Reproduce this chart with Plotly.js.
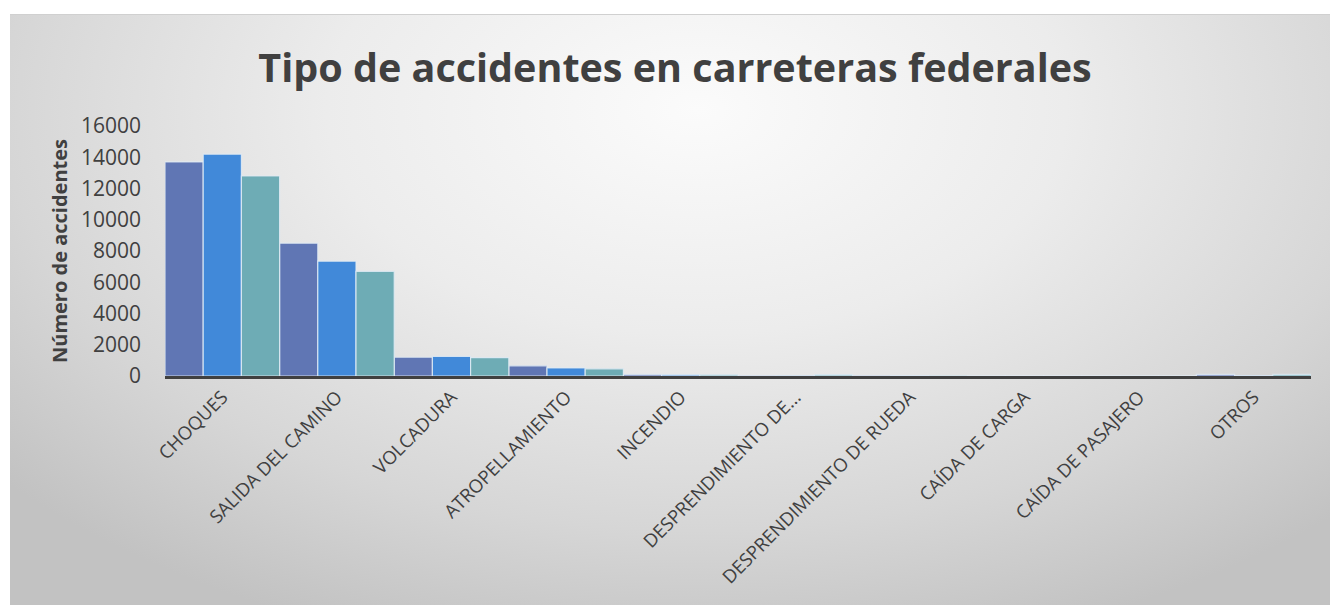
<!DOCTYPE html>
<html>
<head>
<meta charset="utf-8">
<script src="https://cdn.plot.ly/plotly-3.0.1.min.js"></script>
<style>
  html, body { margin: 0; padding: 0; background: #ffffff; width: 1330px; height: 605px; overflow: hidden; }
  #bg { position: absolute; left: 10px; top: 14px; width: 1320px; height: 591px;
        background: radial-gradient(ellipse 70% 95% at 52% 16%, #fbfbfb 0%, #ececec 40%, #d6d6d6 75%, #c2c2c2 100%);
        border-top: 1px solid #d0d0d0; }
  #chart { position: absolute; left: 0; top: 0; width: 1330px; height: 605px; }
</style>
</head>
<body>
<div id="bg"></div>
<div id="chart"></div>
<script>
const categories = ["CHOQUES", "SALIDA DEL CAMINO", "VOLCADURA", "ATROPELLAMIENTO", "INCENDIO",
  "DESPRENDIMIENTO DE...", "DESPRENDIMIENTO DE RUEDA", "CAÍDA DE CARGA", "CAÍDA DE PASAJERO", "OTROS"];
const serie1 = [13700, 8500, 1200, 650, 110, 15, 10, 5, 5, 100];
const serie2 = [14200, 7350, 1250, 520, 90, 10, 20, 5, 5, 30];
const serie3 = [12800, 6700, 1170, 460, 80, 90, 10, 5, 5, 110];
const seriesNames = ["Serie 1", "Serie 2", "Serie 3"];
const colors = ["#6076b4", "#4189d9", "#6eacb5"];
const yTicks = [0, 2000, 4000, 6000, 8000, 10000, 12000, 14000, 16000];

const data = [serie1, serie2, serie3].map((vals, i) => ({
  type: "bar",
  name: seriesNames[i],
  x: categories,
  y: vals,
  marker: { color: colors[i], line: { color: "rgba(225,235,245,0.85)", width: 1.2 } },
  hoverinfo: "x+y+name"
}));

const layout = {
  width: 1330, height: 605,
  paper_bgcolor: "rgba(0,0,0,0)",
  plot_bgcolor: "rgba(0,0,0,0)",
  margin: { l: 165, r: 19, t: 126, b: 229 },
  barmode: "group", bargap: 0, bargroupgap: 0,
  showlegend: false,
  title: {
    text: "<b>Tipo de accidentes en carreteras federales</b>",
    font: { family: "Open Sans, sans-serif", size: 39.5, color: "#404040" },
    x: 675 / 1330, xanchor: "center", xref: "container",
    y: 1 - 68 / 605, yanchor: "middle", yref: "container"
  },
  xaxis: {
    type: "category",
    tickangle: -45,
    tickfont: { family: "Open Sans, sans-serif", size: 18.5, color: "#404040" },
    showline: true, linecolor: "#404040", linewidth: 3,
    showgrid: false, zeroline: false, ticks: "", ticklen: 0
  },
  yaxis: {
    range: [0, 16000],
    tickvals: yTicks,
    ticktext: yTicks.map(String),
    tickfont: { family: "Open Sans, sans-serif", size: 21, color: "#404040" },
    ticklabelstandoff: 23,
    showgrid: false, zeroline: false, showline: false, ticks: "",
    title: { text: "<b>Número de accidentes</b>", font: { family: "Open Sans, sans-serif", size: 20, color: "#404040" }, standoff: 7 }
  }
};

Plotly.newPlot("chart", data, layout, { displayModeBar: false, staticPlot: true });
</script>
</body>
</html>
